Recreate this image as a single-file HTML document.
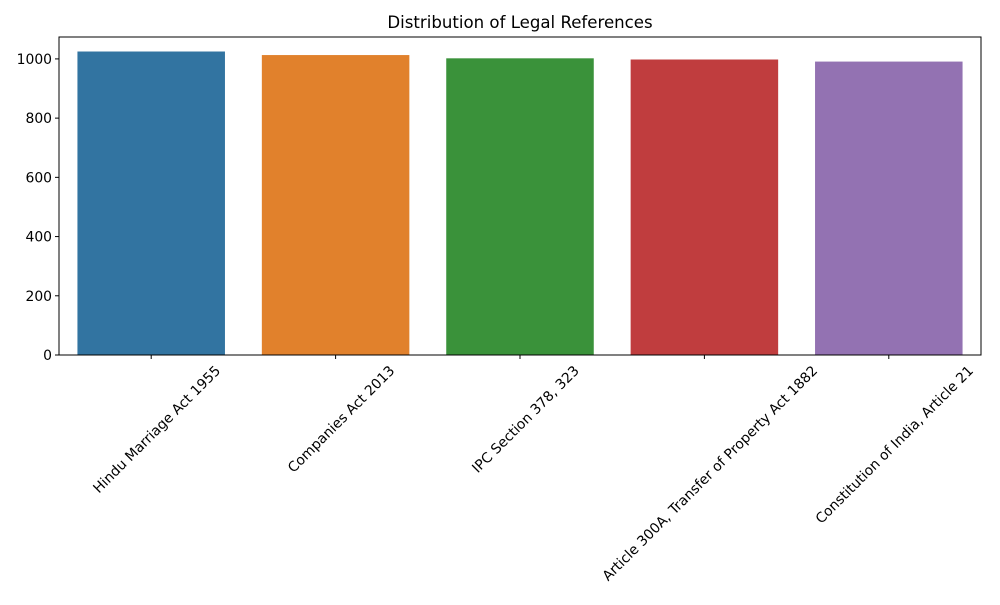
<!DOCTYPE html>
<html><head><meta charset="utf-8"><style>body{margin:0;background:#fff}svg{font-family:"DejaVu Sans","Liberation Sans",sans-serif}</style></head>
<body>
<svg id="chart" width="1000" height="600">
<rect width="1000" height="600" fill="#fff"/>
<text x="520" y="28" text-anchor="middle" font-size="16.6">Distribution of Legal References</text>
<g id="plot"></g>
</svg>
<script>
const categories = ["Hindu Marriage Act 1955","Companies Act 2013","IPC Section 378, 323","Article 300A, Transfer of Property Act 1882","Constitution of India, Article 21"];
const values = [1025, 1013, 1002, 998, 991];
const colors = ["#3274a1","#e1812c","#3a923a","#c03d3e","#9372b2"];
const yTicks = [0, 200, 400, 600, 800, 1000];
const L = 59, R = 981, T = 37, B = 355, yMax = 1074;
const NS = "http://www.w3.org/2000/svg";
const g = document.getElementById('plot');
function y(v){ return B - v / yMax * (B - T); }
const slot = (R - L) / categories.length;
function xc(i){ return L + slot * (i + 0.5); }
function mk(tag, attrs){ const e = document.createElementNS(NS, tag); for (const k in attrs) e.setAttribute(k, attrs[k]); g.appendChild(e); return e; }
values.forEach((v, i) => {
  const r = mk('rect', {x: xc(i) - slot * 0.4, y: y(v), width: slot * 0.8, height: B - y(v), fill: colors[i]});
  
  
});
yTicks.forEach(t => {
  const ln = mk('line', {x1: L - 4, x2: L, y1: y(t), y2: y(t), stroke: '#000'});
  
  
  const tx = mk('text', {x: L - 7, y: y(t) + 5, 'text-anchor': 'end', 'font-size': '13.9'});
  tx.textContent = t;
  
  
});
categories.forEach((c, i) => {
  const ln = mk('line', {x1: xc(i), x2: xc(i), y1: B, y2: B + 4, stroke: '#000'});
  
  
  const tx = mk('text', {x: 0, y: 0, 'text-anchor': 'middle', 'dominant-baseline': 'central', 'font-size': '13.9'});
  tx.textContent = c;
  
  
  const len = tx.getComputedTextLength();
  const h = (len + 16) * 0.7071;
  tx.setAttribute('transform', `translate(${xc(i) + 6},${B + 8 + h / 2}) rotate(-45)`);
});
const frame = mk('rect', {x: L, y: T, width: R - L, height: B - T, fill: 'none', stroke: '#000', 'stroke-width': 1});


</script>
</body></html>
